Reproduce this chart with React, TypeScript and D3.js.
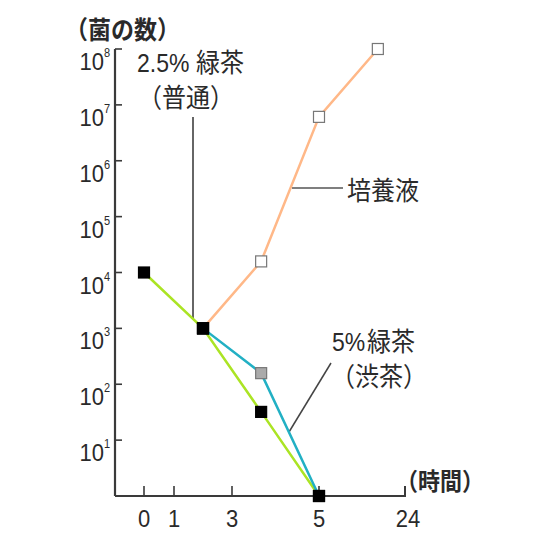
import React from 'react';
import * as d3 from 'd3';

// ---- data ----
const tickTimes = [0, 1, 3, 5, 24];
const tickLabels = ['0', '1', '3', '5', '24'];
const yExponents = [1, 2, 3, 4, 5, 6, 7, 8];

const cultureTimes = [2, 3.67, 5, 18];
const cultureValues = [1000, 15800, 6.1e6, 1e8];
const cultureFill = ['#000', '#fff', '#fff', '#fff'];

const tea5Times = [2, 3.67, 5];
const tea5Values = [1000, 158, 1];
const tea5Fill = ['#000', '#aaa', '#000'];

const tea25Times = [0, 2, 3.67, 5];
const tea25Values = [10000, 1000, 32, 1];
const tea25Fill = ['#000', '#000', '#000', '#000'];

const W = 560;
const H = 552;
const SY = 1.1;
const LATIN = 'Liberation Sans, Arial, sans-serif';
const CJK = '"Noto Sans CJK JP", sans-serif';
const TXT = '#2a2a2a';

const x = d3.scaleLinear().domain([0, 1, 3, 5, 24]).range([144, 174, 232, 319, 405]);
const y = d3.scaleLog().domain([1, 1e8]).range([496, 49]);

type Pt = { t: number; v: number; f: string };
const mk = (ts: number[], vs: number[], fs: string[]): Pt[] => ts.map((t, i) => ({ t, v: vs[i], f: fs[i] }));

const culture = mk(cultureTimes, cultureValues, cultureFill);
const tea5 = mk(tea5Times, tea5Values, tea5Fill);
const tea25 = mk(tea25Times, tea25Values, tea25Fill);

const line = d3.line<Pt>().x(d => x(d.t)).y(d => y(d.v));

function T(props: { x: number; y: number; size: number; font?: string; anchor?: string; children: any; weight?: number; fill?: string }) {
  return (
    <text
      transform={`translate(${props.x},${props.y}) scale(1,${SY})`}
      fontSize={props.size}
      fontFamily={props.font || LATIN}
      textAnchor={(props.anchor as any) || 'start'}
      fill={props.fill || TXT}
      fontWeight={props.weight || 400}
    >
      {props.children}
    </text>
  );
}

export default function App() {
  const axisColor = '#3a3a3a';
  const sq = 11;
  return (
    <svg width={W} height={H} style={{ position: 'absolute', left: 0, top: 0, background: '#fff' }}>
      <rect width={W} height={H} fill="#fff" />
      {/* y label */}
      <T x={65} y={39} size={23} font={CJK} weight={700}>（菌の数）</T>

      {/* axes */}
      <line x1={115} y1={y(1e8)} x2={115} y2={y(1)} stroke={axisColor} strokeWidth={2.2} />
      <line x1={115} y1={y(1)} x2={x(24)} y2={y(1)} stroke={axisColor} strokeWidth={2.2} />
      <line x1={x(24)} y1={y(1) + 1} x2={x(24)} y2={y(1) - 10} stroke={axisColor} strokeWidth={2} />
      {yExponents.map(e => (
        <g key={e}>
          <line x1={115} x2={122} y1={y(Math.pow(10, e))} y2={y(Math.pow(10, e))} stroke={axisColor} strokeWidth={1.6} />
          <T x={104} y={y(Math.pow(10, e)) + 21} size={22} anchor="end">10</T>
          <T x={104} y={y(Math.pow(10, e)) + 8} size={11}>{String(e)}</T>
        </g>
      ))}
      {tickTimes.slice(0, 4).map(t => (
        <line key={t} x1={x(t)} x2={x(t)} y1={y(1)} y2={y(1) - 10} stroke={axisColor} strokeWidth={1.6} />
      ))}
      {tickTimes.map((t, i) => (
        <T key={t} x={x(t) + (i === 4 ? 3 : 0)} y={527} size={22} anchor="middle">{tickLabels[i]}</T>
      ))}
      <T x={396} y={490} size={22} font={CJK} weight={700}>（時間）</T>

      {/* leader lines */}
      <line x1={193} y1={117} x2={193} y2={318} stroke="#666" strokeWidth={2} />
      <line x1={292} y1={188} x2={343} y2={188} stroke="#555" strokeWidth={1.5} />
      <line x1={331} y1={363} x2={289} y2={432} stroke="#444" strokeWidth={1.5} />

      {/* series lines */}
      <path d={line(culture) || ''} fill="none" stroke="#ffb888" strokeWidth={2.5} />
      <path d={line(tea25) || ''} fill="none" stroke="#abe424" strokeWidth={2.5} />
      <path d={line(tea5) || ''} fill="none" stroke="#22b0c4" strokeWidth={2.5} />

      {/* markers */}
      {[tea25, tea5, culture].map((s, si) =>
        s.map((d, i) => (
          <rect
            key={`${si}-${i}`}
            x={x(d.t) - sq / 2}
            y={y(d.v) - sq / 2}
            width={sq}
            height={sq}
            fill={d.f}
            stroke={d.f === '#000' ? '#000' : '#777'}
            strokeWidth={1.2}
          />
        ))
      )}

      {/* annotations */}
      <T x={137} y={72} size={23}>2.5%</T>
      <T x={196} y={72} size={24} font={CJK}>緑茶</T>
      <T x={138} y={107} size={24} font={CJK}>（普通）</T>
      <T x={347} y={200} size={24} font={CJK}>培養液</T>
      <T x={332} y={351} size={23}>5%</T>
      <T x={367} y={351} size={24} font={CJK}>緑茶</T>
      <T x={331} y={386} size={24} font={CJK}>（渋茶）</T>
    </svg>
  );
}
